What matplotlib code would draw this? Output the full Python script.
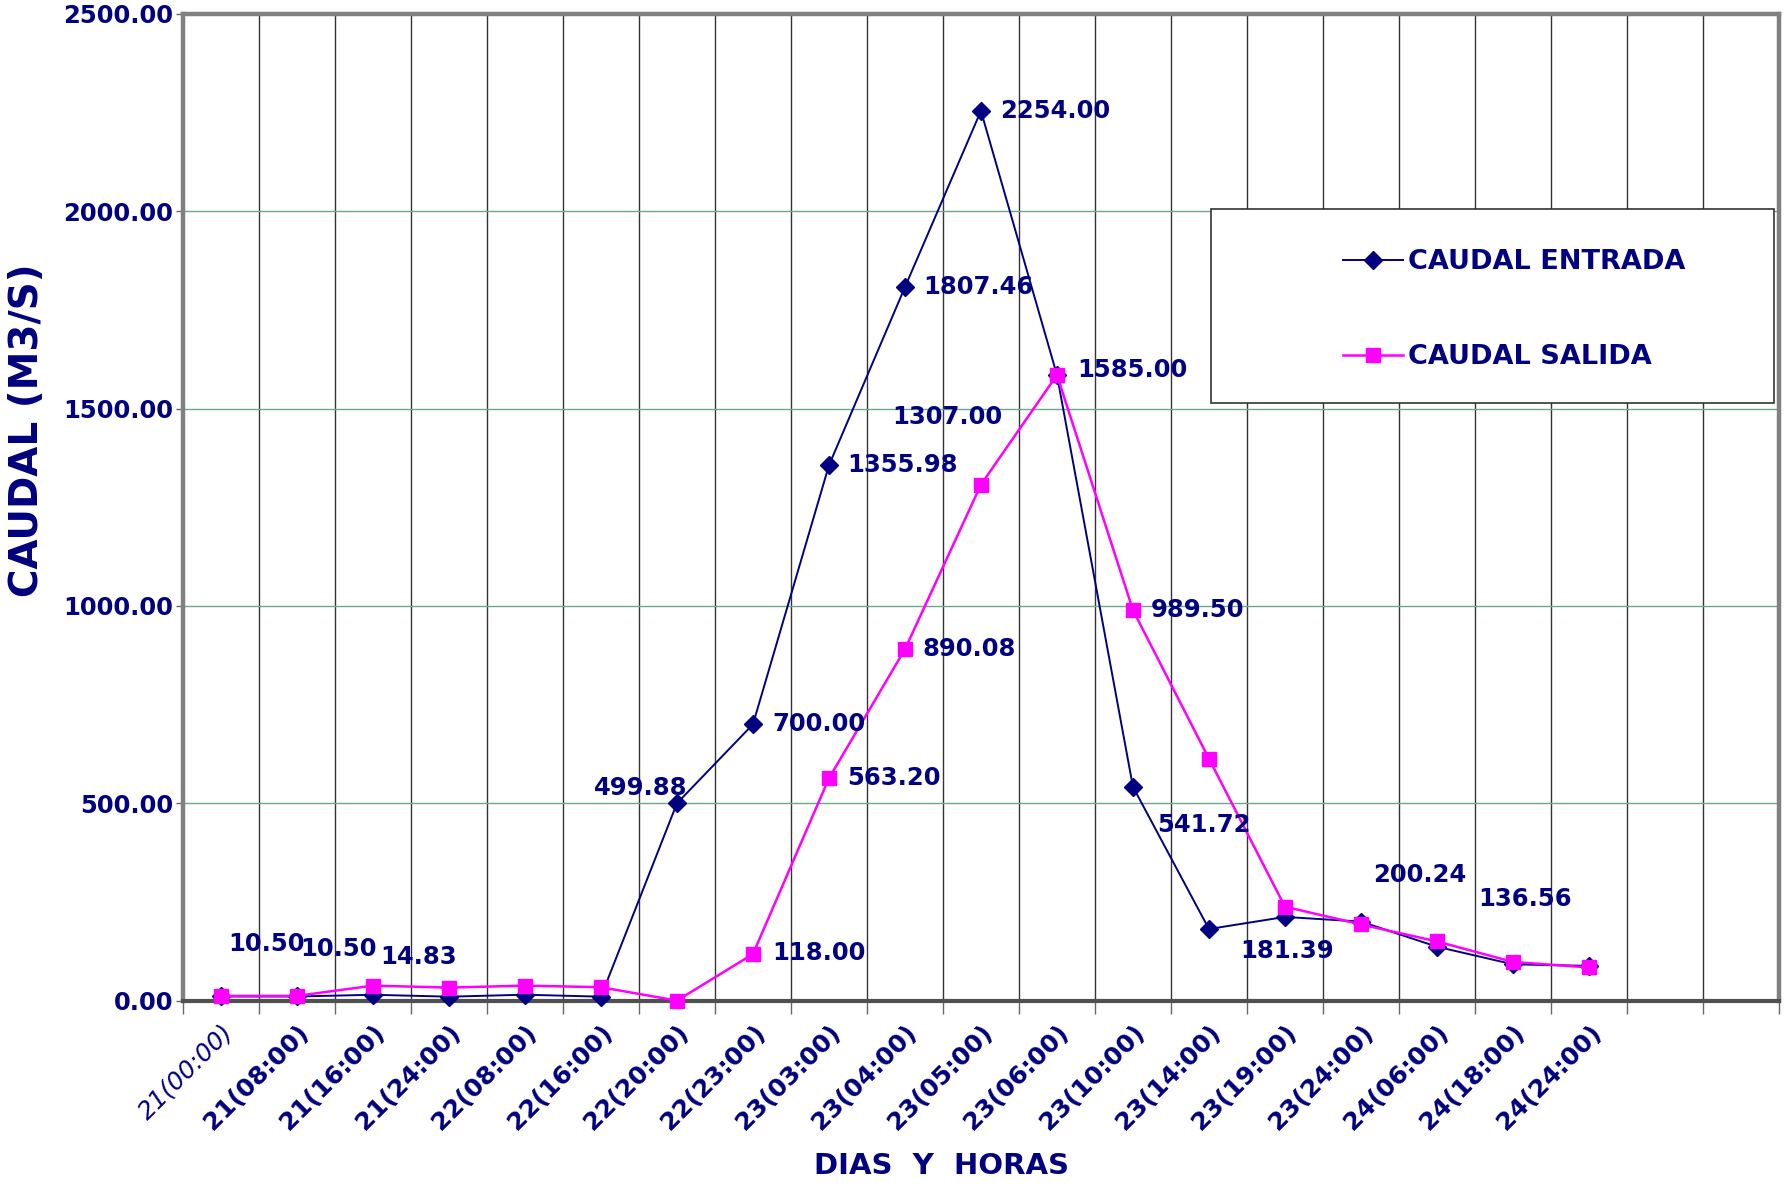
import numpy as np
import matplotlib.pyplot as plt
from matplotlib.patches import Rectangle

# categories on the x axis (day(hour))
labels = ['21(00:00)', '21(08:00)', '21(16:00)', '21(24:00)', '22(08:00)',
          '22(16:00)', '22(20:00)', '22(23:00)', '23(03:00)', '23(04:00)',
          '23(05:00)', '23(06:00)', '23(10:00)', '23(14:00)', '23(19:00)',
          '23(24:00)', '24(06:00)', '24(18:00)', '24(24:00)']

# inflow / outflow (m3/s)
entrada = [10.50, 10.50, 14.83, 10.0, 15.0, 10.0, 499.88, 700.00, 1355.98,
           1807.46, 2254.00, 1585.00, 541.72, 181.39, 212.0, 200.24, 136.56,
           92.0, 88.0]
salida = [12.0, 12.0, 38.0, 33.0, 38.0, 34.0, 0.0, 118.00, 563.20, 890.08,
          1307.00, 1585.00, 989.50, 613.0, 238.0, 193.0, 150.0, 98.0, 84.0]

# which points carry a value label, and where the label sits (pixels from point)
entrada_lbl = {0: (7, 52), 1: (3, 47), 2: (7, 38), 6: (-83, 15), 7: (19, 0),
               8: (18, 0), 9: (18, 0), 10: (19, 0), 12: (24, -38),
               13: (31, -22), 15: (12, 47), 16: (41, 48)}
salida_lbl = {7: (19, 1), 8: (18, 0), 9: (18, 0), 10: (-89, 68),
              11: (20, 5), 12: (18, 0)}

navy = '#000080'
pink = '#FF00FF'
n_cat = 21

fig = plt.figure(figsize=(17.85, 11.86), dpi=100)
ax = fig.add_axes([0.1025, 0.1563, 0.8941, 0.8321])

x = np.arange(len(labels))
l1, = ax.plot(x, entrada, color=navy, lw=1.4, marker='D', ms=9,
              mfc=navy, mec=navy, clip_on=False, zorder=3, label='CAUDAL ENTRADA')
l2, = ax.plot(x, salida, color=pink, lw=1.8, marker='s', ms=9.5,
              mfc=pink, mec=pink, clip_on=False, zorder=4, label='CAUDAL SALIDA')

for i, (dx, dy) in entrada_lbl.items():
    ax.annotate(f'{entrada[i]:.2f}', (x[i], entrada[i]), xytext=(dx, dy),
                textcoords='offset pixels', ha='left', va='center',
                fontsize=17.5, fontweight='bold', color=navy, zorder=6)
for i, (dx, dy) in salida_lbl.items():
    ax.annotate(f'{salida[i]:.2f}', (x[i], salida[i]), xytext=(dx, dy),
                textcoords='offset pixels', ha='left', va='center',
                fontsize=17.5, fontweight='bold', color=navy, zorder=6)

ax.set_xlim(-0.5, n_cat - 0.5)
ax.set_ylim(0, 2500)

ax.set_xticks(x)
ax.set_xticklabels(labels, rotation=45, ha='right', va='top',
                   rotation_mode='anchor', fontsize=18, fontweight='bold',
                   color=navy)
first = ax.get_xticklabels()[0]
first.set_fontweight('normal')
first.set_fontstyle('italic')
ax.tick_params(axis='x', which='major', length=0, pad=14)
ax.set_xticks(np.arange(-0.5, n_cat, 1), minor=True)
ax.tick_params(axis='x', which='minor', length=9, width=1, color='#666666')

yt = np.arange(0, 2501, 500)
ax.set_yticks(yt)
ax.set_yticklabels([f'{v:.2f}' for v in yt], fontsize=17.5, fontweight='bold',
                   color=navy)
ax.tick_params(axis='y', length=5, width=1, color='#666666', pad=2)

ax.grid(which='minor', axis='x', color='#333333', lw=1)
ax.grid(which='major', axis='y', color='#6aaa88', lw=1)
ax.set_axisbelow(True)

for s in ['left', 'top', 'right']:
    ax.spines[s].set_color('#808080')
    ax.spines[s].set_linewidth(3.2)
ax.spines['bottom'].set_color('#505050')
ax.spines['bottom'].set_linewidth(3)

fig.text(0.0153, 0.6374, 'CAUDAL (M3/S)', rotation=90, ha='center', va='center',
         fontsize=28, fontweight='bold', color=navy)
fig.text(941 / 1785, 0.0169, 'DIAS  Y  HORAS', ha='center', va='center',
         fontsize=21, fontweight='bold', color=navy)

# legend box
ax.add_patch(Rectangle((0.6784, 0.6602), 0.3154, 0.1636, transform=fig.transFigure,
                       facecolor='white', edgecolor='#333333', lw=1.2,
                       zorder=7, clip_on=False))
leg = ax.legend(handles=[l1, l2], loc='upper left',
                bbox_to_anchor=(1343 / 1785, 0.790), bbox_transform=fig.transFigure,
                frameon=False, handlelength=2.2, handletextpad=0.2,
                labelspacing=2.56, borderpad=0, borderaxespad=0,
                prop={'size': 19.5, 'weight': 'bold'}, labelcolor=navy)
leg.set_zorder(8)

fig.savefig('out.png', dpi=100)
